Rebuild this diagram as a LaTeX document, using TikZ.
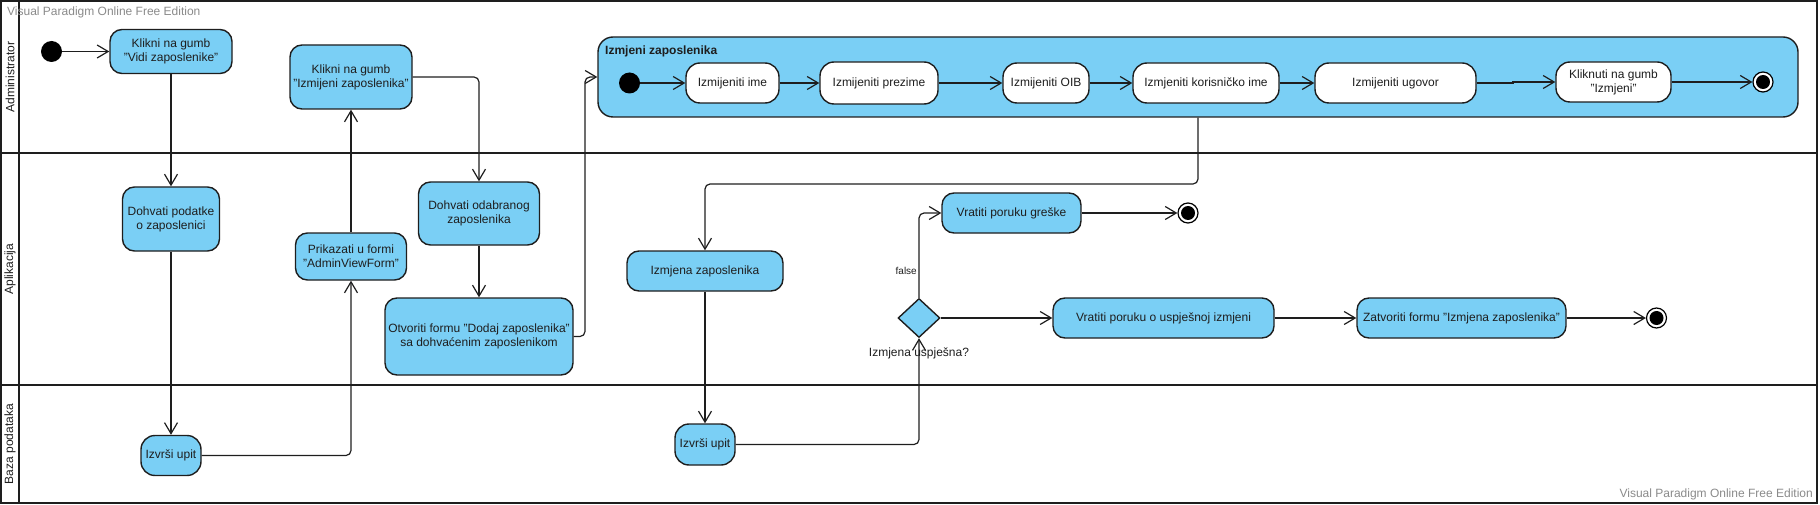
\documentclass[tikz,border=0pt]{standalone}
\usepackage{fontspec}
\setmainfont{Liberation Sans}
\usetikzlibrary{arrows.meta,shapes.geometric}
\definecolor{act}{HTML}{7ACFF5}
\definecolor{ln}{HTML}{1E1E1E}
\definecolor{wm}{HTML}{8A8A8A}
\begin{document}
\begin{tikzpicture}[x=1pt,y=-1pt,
  font=\fontsize{12}{14}\selectfont,
  actbox/.style={draw=ln,line width=1.4pt,fill=act,rounded corners=12pt,align=center,inner sep=0pt,text=ln},
  wbox/.style={actbox,fill=white,rounded corners=14pt},
  initnode/.style={circle,fill=black,minimum size=21pt,inner sep=0pt},
  finnode/.style={circle,draw=black,line width=1.2pt,fill=white,minimum size=20pt,inner sep=0pt,
    path picture={\fill[black] (path picture bounding box.center) circle (7pt);}},
  flow/.style={draw=ln,line width=1.2pt,-{Straight Barb[length=11pt,width=13pt]},rounded corners=5pt},
  lane/.style={draw=ln,line width=2pt},
  lbl/.style={text=ln}
]
\useasboundingbox (0,0) rectangle (1820,505);
% swimlanes
\draw[lane] (1,1) rectangle (1817,503);
\draw[lane] (18.5,1) -- (18.5,503);
\draw[lane] (1,153) -- (1817,153);
\draw[lane] (1,385) -- (1817,385);
\node[lbl,rotate=90] (lA) at (10,77) {Administrator};
\node[lbl,rotate=90] (lB) at (10,269) {Aplikacija};
\node[lbl,rotate=90] (lC) at (10,444) {Baza podataka};
% watermarks
\node[anchor=west,text=wm,inner sep=0pt] (wm1) at (7,12) {Visual Paradigm Online Free Edition};
\node[anchor=east,text=wm,inner sep=0pt] (wm2) at (1813,494) {Visual Paradigm Online Free Edition};

% administrator lane
\node[initnode] (ini1) at (51.5,51.5) {};
\node[actbox,minimum width=122pt,minimum height=44pt] (vidi) at (171,51.5) {Klikni na gumb\\"Vidi zaposlenike"};
\node[actbox,minimum width=122pt,minimum height=64pt] (klikiz) at (351,77) {Klikni na gumb\\"Izmijeni zaposlenika"};

% submachine
\node[actbox,rounded corners=15pt,minimum width=1200pt,minimum height=80pt] (sub) at (1198,77) {};
\node[anchor=west,inner sep=0pt,text=ln,font=\fontsize{12}{14}\selectfont\bfseries] (subt) at (605,51) {Izmjeni zaposlenika};
\node[initnode] (ini2) at (629.5,83) {};
\node[wbox,minimum width=93pt,minimum height=40pt] (ime) at (732.5,83) {Izmijeniti ime};
\node[wbox,minimum width=118pt,minimum height=42pt] (prez) at (879,83) {Izmijeniti prezime};
\node[wbox,minimum width=86pt,minimum height=40pt] (oib) at (1046,83) {Izmijeniti OIB};
\node[wbox,minimum width=146pt,minimum height=40pt] (kor) at (1206,83) {Izmjeniti korisničko ime};
\node[wbox,minimum width=161pt,minimum height=40pt] (ugo) at (1395.5,83) {Izmijeniti ugovor};
\node[wbox,minimum width=115pt,minimum height=40pt] (klik2) at (1613.5,82) {Kliknuti na gumb\\"Izmjeni"};
\node[finnode] (fin2) at (1763,82) {};

% application lane
\node[actbox,minimum width=97pt,minimum height=64pt] (dohp) at (171,219) {Dohvati podatke\\o zaposlenici};
\node[actbox,minimum width=111pt,minimum height=47pt] (prik) at (351,256.5) {Prikazati u formi\\"AdminViewForm"};
\node[actbox,minimum width=121pt,minimum height=63pt] (dodab) at (479,213.5) {Dohvati odabranog\\zaposlenika};
\node[actbox,minimum width=188pt,minimum height=77pt] (otv) at (479,336.5) {Otvoriti formu "Dodaj zaposlenika"\\sa dohvaćenim zaposlenikom};
\node[actbox,minimum width=156pt,minimum height=40pt] (izm) at (705,271) {Izmjena zaposlenika};
\node[diamond,draw=ln,fill=act,line width=1.4pt,minimum width=42pt,minimum height=39pt,inner sep=0pt] (dia) at (919,318) {};
\node[lbl,inner sep=0pt] (dial) at (919,353) {Izmjena uspješna?};
\node[actbox,minimum width=139pt,minimum height=40pt] (grs) at (1011.5,213) {Vratiti poruku greške};
\node[finnode] (fin3) at (1188,213) {};
\node[actbox,minimum width=221pt,minimum height=40pt] (usp) at (1163.5,318) {Vratiti poruku o uspješnoj izmjeni};
\node[actbox,minimum width=209pt,minimum height=40pt] (zat) at (1461.5,318) {Zatvoriti formu "Izmjena zaposlenika"};
\node[finnode] (fin4) at (1656.5,318) {};

% database lane
\node[actbox,minimum width=60pt,minimum height=40pt,rounded corners=14pt] (upit1) at (171,455.5) {Izvrši upit};
\node[actbox,minimum width=60pt,minimum height=41pt,rounded corners=14pt] (upit2) at (705,444.5) {Izvrši upit};

% connectors
\draw[flow] (ini1) -- (vidi);
\draw[flow] (vidi) -- (dohp);
\draw[flow] (dohp) -- (upit1);
\draw[flow] (upit1.east) -| (prik.south);
\draw[flow] (prik) -- (klikiz);
\draw[flow] (klikiz.east) -| (dodab.north);
\draw[flow] (dodab) -- (otv);
\draw[flow] (otv.east) -- (585,336.5) -- (585,77) -- (sub.west);
\draw[flow] (ini2) -- (ime);
\draw[flow] (ime) -- (prez);
\draw[flow] (prez) -- (oib);
\draw[flow] (oib) -- (kor);
\draw[flow] (kor) -- (ugo);
\draw[flow,rounded corners=0pt] (ugo.east) -- (1513,83) -- (1513,82) -- (klik2.west);
\draw[flow] (klik2) -- (fin2);
\draw[flow] (sub.south) -- (1198,184) -| (izm.north);
\draw[flow] (izm) -- (upit2);
\draw[flow] (upit2.east) -| (dia.south);
\draw[flow] (dia.north) |- (grs.west);
\node[anchor=east,inner sep=0pt,text=ln,font=\fontsize{10}{12}\selectfont] (fl) at (917,271) {false};
\draw[flow] (grs) -- (fin3);
\draw[flow] (dia.east) -- (usp.west);
\draw[flow] (usp) -- (zat);
\draw[flow] (zat) -- (fin4);
\end{tikzpicture}
\end{document}
